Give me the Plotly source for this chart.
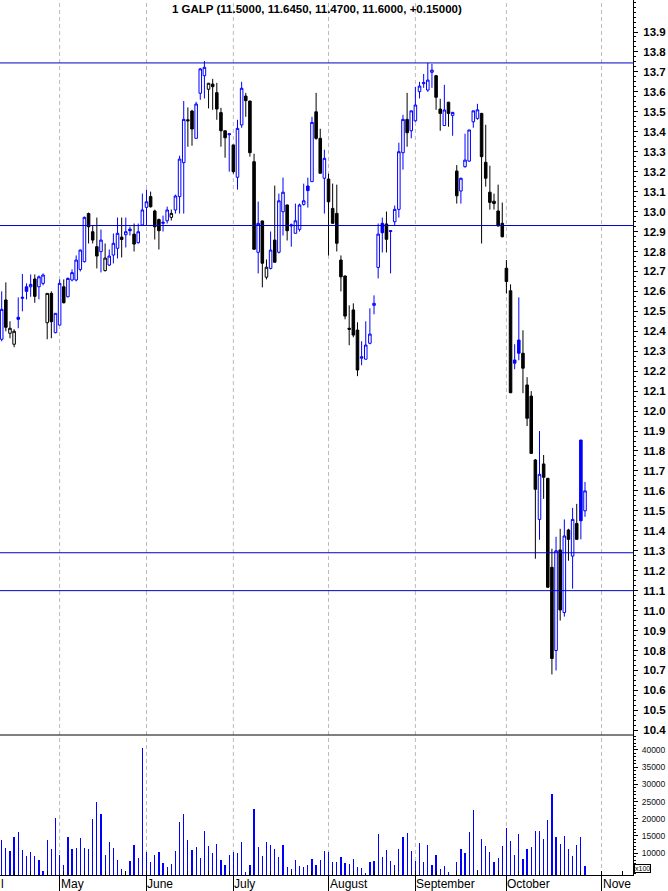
import plotly.graph_objects as go
import pandas as pd

# ---------------- data ----------------
opens = [12.36, 12.557, 12.39, 12.335, 12.47, 12.565, 12.623, 12.623, 12.662, 12.623,
         12.64, 12.443, 12.59, 12.393, 12.431, 12.623, 12.573, 12.657, 12.657, 12.71,
         12.749, 12.99, 12.899, 12.824, 12.799, 12.704, 12.732, 12.782, 12.816, 12.872,
         12.884, 12.912, 12.887, 12.844, 12.933, 13.021, 13.075, 13.003, 12.96, 12.941,
         12.954, 12.971, 13.008, 13.075, 13.245, 13.46, 13.504, 13.367, 13.593, 13.681,
         13.613, 13.639, 13.596, 13.496, 13.405, 13.385, 13.334, 13.172, 13.434, 13.579,
         13.554, 13.25, 12.796, 12.953, 12.671, 12.715, 12.857, 12.796, 12.999, 13.033,
         12.928, 12.891, 12.911, 13.036, 13.128, 13.15, 13.50, 13.367, 13.167, 13.163,
         13.016, 12.991, 12.757, 12.677, 12.415, 12.507, 12.406, 12.265, 12.26, 12.34,
         12.53, 12.72, 12.941, 12.938, 12.90, 12.949, 13.011, 13.295, 13.462, 13.405,
         13.455, 13.601, 13.641, 13.609, 13.698, 13.681, 13.514, 13.431, 13.548, 13.482,
         13.203, 13.103, 13.225, 13.253, 13.45, 13.467, 13.492, 13.247, 13.097, 13.052,
         13.003, 12.941, 12.716, 12.603, 12.256, 12.356, 12.29, 12.131, 12.075, 11.755,
         11.457, 11.735, 11.663, 11.217, 10.80, 11.304, 10.99, 11.404, 11.273, 11.437,
         11.855, 11.50]
highs = [12.60, 12.645, 12.45, 12.41, 12.57, 12.687, 12.64, 12.685, 12.685, 12.68,
         12.69, 12.59, 12.60, 12.49, 12.66, 12.66, 12.67, 12.71, 12.78, 12.81,
         12.975, 12.995, 12.93, 12.97, 12.91, 12.84, 12.81, 12.89, 12.97, 12.97,
         12.97, 12.925, 12.94, 12.94, 13.09, 13.11, 13.10, 13.01, 12.965, 12.98,
         13.025, 13.01, 13.085, 13.28, 13.554, 13.522, 13.51, 13.55, 13.72, 13.755,
         13.645, 13.665, 13.645, 13.52, 13.405, 13.39, 13.335, 13.46, 13.65, 13.595,
         13.555, 13.29, 13.05, 12.955, 12.76, 12.90, 13.13, 13.09, 13.17, 13.035,
         12.94, 13.04, 13.04, 13.14, 13.17, 13.475, 13.595, 13.415, 13.31, 13.19,
         13.14, 13.135, 12.78, 12.68, 12.53, 12.54, 12.445, 12.35, 12.45, 12.515,
         12.58, 12.94, 12.97, 13.0, 12.905, 13.03, 13.345, 13.485, 13.595, 13.505,
         13.625, 13.65, 13.69, 13.745, 13.74, 13.685, 13.565, 13.635, 13.55, 13.50,
         13.233, 13.17, 13.39, 13.41, 13.505, 13.54, 13.495, 13.435, 13.23, 13.09,
         13.135, 13.045, 12.757, 12.635, 12.335, 12.57, 12.405, 12.17, 12.10, 11.76,
         11.90, 11.78, 11.665, 11.31, 11.37, 11.41, 11.457, 11.41, 11.515, 11.535,
         11.855, 11.645]
lows = [12.35, 12.40, 12.365, 12.32, 12.415, 12.50, 12.56, 12.573, 12.543, 12.56,
        12.63, 12.36, 12.365, 12.39, 12.43, 12.54, 12.57, 12.65, 12.65, 12.70,
        12.745, 12.84, 12.84, 12.715, 12.695, 12.70, 12.727, 12.74, 12.765, 12.77,
        12.82, 12.88, 12.80, 12.84, 12.93, 12.93, 13.02, 12.86, 12.81, 12.90,
        12.94, 12.955, 12.99, 12.99, 12.99, 13.325, 13.33, 13.367, 13.56, 13.567,
        13.517, 13.51, 13.46, 13.325, 13.27, 13.20, 13.19, 13.11, 13.42, 13.475,
        13.275, 12.81, 12.69, 12.62, 12.66, 12.71, 12.745, 12.79, 12.88, 12.855,
        12.824, 12.89, 12.90, 13.03, 13.02, 13.15, 13.36, 13.19, 12.99, 12.78,
        12.94, 12.80, 12.60, 12.46, 12.33, 12.37, 12.175, 12.23, 12.26, 12.335,
        12.485, 12.665, 12.795, 12.795, 12.69, 12.93, 12.97, 13.21, 13.325, 13.367,
        13.45, 13.567, 13.62, 13.60, 13.62, 13.51, 13.405, 13.43, 13.425, 13.38,
        13.04, 13.04, 13.22, 13.25, 13.42, 13.46, 12.84, 13.125, 13.01, 13.01,
        12.925, 12.87, 12.59, 12.09, 12.21, 12.255, 12.09, 11.925, 11.785, 11.26,
        11.355, 11.56, 11.115, 10.68, 10.70, 10.95, 10.97, 11.25, 11.11, 11.355,
        11.357, 11.47]
closes = [12.51, 12.42, 12.415, 12.40, 12.46, 12.57, 12.60, 12.635, 12.575, 12.673,
          12.682, 12.59, 12.448, 12.49, 12.64, 12.543, 12.665, 12.694, 12.757, 12.807,
          12.971, 12.924, 12.857, 12.777, 12.857, 12.767, 12.777, 12.841, 12.891, 12.86,
          12.899, 12.904, 12.837, 12.899, 13.008, 13.049, 13.024, 12.924, 12.904, 12.946,
          13.008, 12.991, 13.078, 13.263, 13.462, 13.455, 13.414, 13.539, 13.715, 13.723,
          13.643, 13.626, 13.514, 13.405, 13.37, 13.39, 13.20, 13.417, 13.618, 13.556,
          13.295, 12.811, 12.941, 12.741, 12.721, 12.807, 12.746, 13.054, 13.097, 12.904,
          12.933, 12.954, 13.033, 13.054, 13.105, 13.447, 13.367, 13.192, 13.267, 13.049,
          12.941, 12.841, 12.673, 12.476, 12.41, 12.381, 12.206, 12.272, 12.331, 12.386,
          12.54, 12.887, 12.894, 12.861, 12.904, 13.011, 13.30, 13.462, 13.395, 13.505,
          13.534, 13.629, 13.646, 13.659, 13.709, 13.573, 13.492, 13.509, 13.492, 13.497,
          13.079, 13.167, 13.258, 13.409, 13.505, 13.51, 13.275, 13.167, 13.046, 13.04,
          12.928, 12.874, 12.649, 12.092, 12.24, 12.29, 12.215, 11.964, 11.788, 11.608,
          11.683, 11.668, 11.117, 10.76, 11.30, 11.003, 11.374, 11.357, 11.457, 11.357,
          11.45, 11.60]
volumes = [13800, 11400, 10600, 14600, 16200, 10900, 9200, 10300, 9200, 8000,
           4800, 13800, 11200, 20200, 9500, 6600, 14700, 11200, 11500, 14400,
           11500, 11200, 19900, 24900, 21400, 9500, 13300, 11500, 8000, 5400,
           4800, 7700, 12400, 8600, 40600, 10300, 7400, 9500, 10300, 7200,
           6000, 6900, 10600, 19100, 21400, 13900, 10900, 11800, 8600, 16500,
           12100, 10100, 12700, 8000, 6600, 9500, 10300, 10100, 13300, 4500,
           6600, 22800, 11800, 9200, 13300, 12400, 11200, 8900, 12400, 6000,
           5400, 8000, 6300, 6000, 6600, 8300, 6600, 8000, 10600, 10300,
           7400, 7400, 8900, 7200, 6900, 8300, 6000, 5700, 4200, 7400,
           7700, 15600, 8900, 10900, 7700, 6600, 11200, 14700, 15900, 10600,
           7700, 13000, 7400, 12400, 6600, 9500, 5400, 6300, 4500, 3000,
           7400, 11200, 10100, 16200, 22600, 5100, 14100, 12100, 10300, 7400,
           8600, 12100, 17300, 13500, 9500, 15600, 8300, 11200, 11800, 16500,
           16500, 14100, 19700, 27200, 14700, 12700, 15000, 11200, 9200, 12400,
           14700, 6300]
symbol = "1 GALP"
month_names = {5: "May", 6: "June", 7: "July", 8: "August", 9: "September",
               10: "October", 11: "Nove"}
level_lines = [13.745, 12.93, 11.29, 11.10]
price_ticks = [round(10.4 + 0.1 * k, 1) for k in range(36)]
volume_ticks = [10000, 15000, 20000, 25000, 30000, 35000, 40000]

# ---------------- trading calendar (Euronext Lisbon 2014) ----------------
holidays = {"2014-04-18", "2014-04-21", "2014-05-01"}
cal = [d for d in pd.bdate_range("2014-04-09", "2014-11-28")
       if d.strftime("%Y-%m-%d") not in holidays]
n = len(closes)
idx = list(range(n))
X0, X1 = -0.41, 152.6

month_idx = [i for i in range(1, len(cal)) if cal[i].month != cal[i - 1].month and i < X1]
week_idx = [i for i in range(1, len(cal)) if cal[i].weekday() < cal[i - 1].weekday() and i < X1]

BLUE = "#0000FF"
BLACK = "#000000"
FONT = "Liberation Sans, Arial, sans-serif"

blue_ids = [i for i in idx if i == 0 or closes[i] >= closes[i - 1]]
black_ids = [i for i in idx if i > 0 and closes[i] < closes[i - 1]]


def candles(ids, color):
    return go.Candlestick(
        x=ids,
        open=[opens[i] for i in ids], high=[highs[i] for i in ids],
        low=[lows[i] for i in ids], close=[closes[i] for i in ids],
        increasing=dict(line=dict(color=color, width=1), fillcolor="white"),
        decreasing=dict(line=dict(color=color, width=1), fillcolor=color),
        whiskerwidth=0, hoverinfo="skip", showlegend=False,
        xaxis="x", yaxis="y")


fig = go.Figure()
fig.add_trace(candles(blue_ids, BLUE))
fig.add_trace(candles(black_ids, BLACK))
fig.add_trace(go.Bar(x=idx, y=volumes, width=0.3,
                     marker=dict(color=BLUE, line=dict(width=0)),
                     hoverinfo="skip", showlegend=False, xaxis="x2", yaxis="y2"))

shapes = []
for m in month_idx:
    shapes.append(dict(type="line", xref="x", yref="paper", x0=m, x1=m, y0=0, y1=1,
                       line=dict(color="#BBBBBB", width=1, dash="4px,3px"), layer="below"))
for v in level_lines:
    shapes.append(dict(type="line", xref="paper", yref="y", x0=0, x1=1, y0=v, y1=v,
                       line=dict(color="#0000CC", width=1)))
shapes.append(dict(type="line", xref="paper", yref="paper", x0=0, x1=1, y0=0.16, y1=0.16,
                   line=dict(color=BLACK, width=1)))

annotations = []
for m in month_idx:
    annotations.append(dict(x=m, xref="x2", y=-0.0105, yref="paper", text=month_names[cal[m].month],
                            showarrow=False, xanchor="left", yanchor="middle", xshift=-1,
                            font=dict(family=FONT, size=12, color=BLACK)))
annotations.append(dict(x=0, xref="paper", y=-0.0105, yref="paper", text="l", showarrow=False,
                        xanchor="left", yanchor="middle", xshift=-1,
                        font=dict(family=FONT, size=12, color=BLACK)))
title = (f"{symbol} ({opens[-1]:.4f}, {highs[-1]:.4f}, {lows[-1]:.4f}, "
         f"{closes[-1]:.4f}, {closes[-1] - closes[-2]:+.5f})")
annotations.append(dict(x=0.5, xref="paper", y=(875 - 9) / 875, yref="paper", text=f"<b>{title}</b>",
                        showarrow=False, xanchor="center", yanchor="middle",
                        font=dict(family=FONT, size=11.5, color=BLACK)))
annotations.append(dict(x=1, xref="paper", y=(875 - 868.5) / 875, yref="paper", text="x100",
                        showarrow=False, xanchor="left", yanchor="middle", xshift=1,
                        bordercolor=BLACK, borderwidth=1, borderpad=0, bgcolor="white",
                        font=dict(family=FONT, size=7, color=BLACK)))

fig.update_layout(
    template="none",
    width=668, height=891,
    margin=dict(l=0, r=35, t=0, b=16, pad=0),
    paper_bgcolor="white", plot_bgcolor="white",
    showlegend=False, boxgap=0.12, bargap=0,
    xaxis=dict(domain=[0, 1], range=[X0, X1], anchor="y", showticklabels=False, ticks="",
               showgrid=False, zeroline=False, showline=False, automargin=False,
               rangeslider=dict(visible=False)),
    xaxis2=dict(domain=[0, 1], range=[X0, X1], anchor="y2", showline=True, linecolor=BLACK,
                linewidth=1, tickmode="array", tickvals=month_idx, ticks="outside", ticklen=16,
                tickcolor=BLACK, tickwidth=1, showticklabels=False, showgrid=False,
                zeroline=False, automargin=False,
                minor=dict(tickmode="array", tickvals=week_idx, ticks="inside", ticklen=4,
                           tickcolor=BLACK, tickwidth=1, showgrid=False)),
    yaxis=dict(domain=[0.16, 1], range=[10.3765, 14.0604], side="right", anchor="x",
               tickmode="array", tickvals=price_ticks, ticktext=[f"{v:.1f}" for v in price_ticks],
               ticks="outside", ticklen=4, tickcolor=BLACK, tickwidth=1,
               showline=True, linecolor=BLACK, linewidth=1, showgrid=False, zeroline=False,
               automargin=False, ticklabelstandoff=3,
               tickfont=dict(family=FONT, size=11.5, color=BLACK, weight="bold"),
               minor=dict(tickmode="linear", tick0=10.4, dtick=0.025, ticks="outside",
                          ticklen=2, tickcolor=BLACK, showgrid=False)),
    yaxis2=dict(domain=[0, 0.16], range=[3650, 44360], side="right", anchor="x2",
                tickmode="array", tickvals=volume_ticks, ticktext=[str(v) for v in volume_ticks],
                ticks="outside", ticklen=4, tickcolor=BLACK, tickwidth=1,
                showline=True, linecolor=BLACK, linewidth=1, showgrid=False, zeroline=False,
                automargin=False, ticklabelstandoff=2,
                tickfont=dict(family=FONT, size=8.5, color="#111111"),
                minor=dict(tickmode="linear", tick0=0, dtick=1000, ticks="outside",
                           ticklen=2, tickcolor=BLACK, showgrid=False)),
    shapes=shapes,
    annotations=annotations,
)

fig.write_html("out.html",
               config={"displayModeBar": False, "staticPlot": True},
               post_script="document.body.style.margin='0px';document.body.style.overflow='hidden';")
